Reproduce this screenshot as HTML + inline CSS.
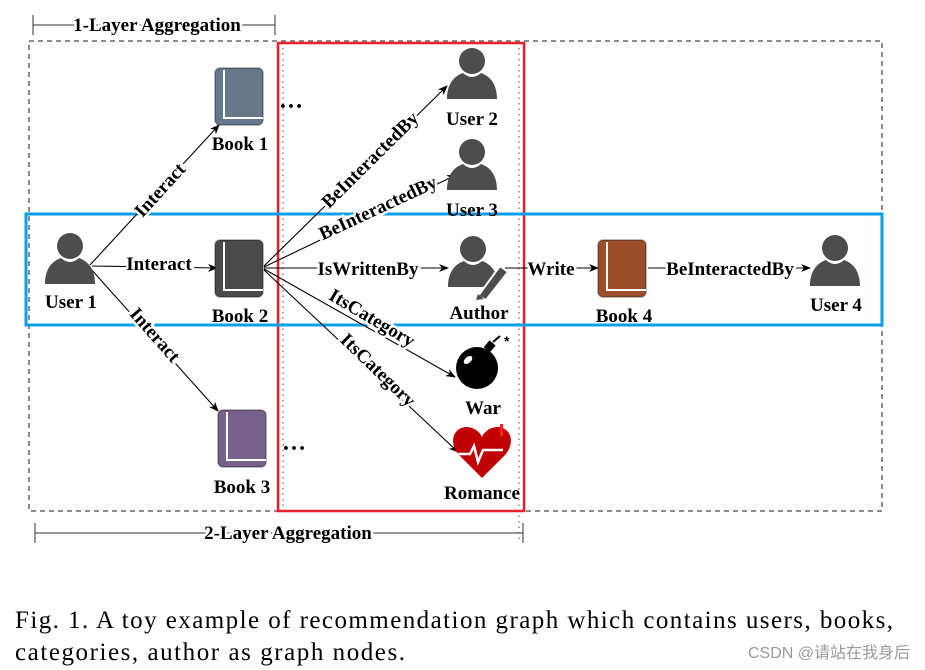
<!DOCTYPE html>
<html><head><meta charset="utf-8"><style>
html,body{margin:0;padding:0;background:#fff;}
svg{display:block;}
.l{font-family:"Liberation Serif",serif;font-weight:bold;font-size:19px;fill:#000;}
.e{font-family:"Liberation Serif",serif;font-weight:bold;font-size:19px;fill:#000;paint-order:stroke;stroke:#fff;stroke-width:5px;}
</style></head><body>
<svg width="925" height="670" viewBox="0 0 925 670" xmlns="http://www.w3.org/2000/svg">
<defs>
<marker id="a" markerWidth="10" markerHeight="8" refX="9" refY="4" orient="auto" markerUnits="userSpaceOnUse"><path d="M0,0 L10,4 L0,8 L3,4 Z" fill="#000"/></marker>
<g id="u"><circle cx="25" cy="14" r="13" fill="#4d4d4d"/><path d="M0,52 C0,37 7,29 16,26 Q25,34 34,26 C43,29 50,37 50,52 Z" fill="#4d4d4d"/></g>
<g id="bk"><rect x="0" y="0" width="48" height="57" rx="5" stroke="rgba(0,0,0,0.35)" stroke-width="1.5"/><path d="M9,2 V50 H48" stroke="#fff" stroke-width="2" fill="none"/></g>
</defs>
<rect x="29" y="41" width="853" height="470" fill="none" stroke="#666" stroke-width="1.5" stroke-dasharray="5,4"/>
<line x1="283" y1="48" x2="283" y2="510" stroke="#888" stroke-width="1.5" stroke-dasharray="1.5,4"/>
<line x1="519" y1="48" x2="519" y2="540" stroke="#888" stroke-width="1.5" stroke-dasharray="1.5,4"/>
<rect x="278" y="43" width="246" height="468" fill="none" stroke="#e8202a" stroke-width="2.5"/>
<rect x="26" y="214" width="856" height="111" fill="none" stroke="#0aa0e8" stroke-width="3"/>
<line x1="33" y1="25" x2="275" y2="25" stroke="#333" stroke-width="1"/>
<line x1="33" y1="15" x2="33" y2="35" stroke="#333"/><line x1="275" y1="15" x2="275" y2="35" stroke="#333"/>
<text class="e" x="157" y="31" text-anchor="middle">1-Layer Aggregation</text>
<line x1="35" y1="533" x2="523" y2="533" stroke="#333" stroke-width="1"/>
<line x1="35" y1="523" x2="35" y2="543" stroke="#333"/><line x1="523" y1="523" x2="523" y2="543" stroke="#333"/>
<text class="e" x="288" y="539" text-anchor="middle">2-Layer Aggregation</text>
<g stroke="#000" stroke-width="1.1" fill="none" marker-end="url(#a)">
<line x1="90" y1="265" x2="219" y2="125"/>
<line x1="92" y1="266" x2="217" y2="268"/>
<line x1="90" y1="268" x2="218" y2="411"/>
<line x1="264" y1="266" x2="447" y2="86"/>
<line x1="264" y1="267" x2="456" y2="175"/>
<line x1="264" y1="268" x2="448" y2="268"/>
<line x1="264" y1="269" x2="455" y2="377"/>
<line x1="264" y1="270" x2="458" y2="452"/>
<line x1="505" y1="268" x2="598" y2="268"/>
<line x1="648" y1="268" x2="810" y2="268"/>
</g>
<text class="e" x="160" y="196" text-anchor="middle" transform="rotate(-47.6 160 190)">Interact</text>
<text class="e" x="159" y="270" text-anchor="middle">Interact</text>
<text class="e" x="155" y="341" text-anchor="middle" transform="rotate(48.6 155 335)">Interact</text>
<text class="e" x="370" y="166" text-anchor="middle" transform="rotate(-44.7 370 160)">BeInteractedBy</text>
<text class="e" x="378" y="214" text-anchor="middle" transform="rotate(-25 378 208)">BeInteractedBy</text>
<text class="e" x="368" y="275" text-anchor="middle">IsWrittenBy</text>
<text class="e" x="372" y="324" text-anchor="middle" transform="rotate(30.5 372 318)">ItsCategory</text>
<text class="e" x="378" y="376" text-anchor="middle" transform="rotate(44 378 370)">ItsCategory</text>
<text class="e" x="551" y="275" text-anchor="middle">Write</text>
<text class="e" x="730" y="275" text-anchor="middle">BeInteractedBy</text>
<use href="#u" x="45" y="232"/>
<text class="l" x="71" y="308" text-anchor="middle">User 1</text>
<use href="#bk" x="215" y="68" fill="#66788a"/>
<text class="l" x="240" y="150" text-anchor="middle">Book 1</text>
<text class="l" x="291" y="108" text-anchor="middle" style="font-size:24px">…</text>
<use href="#bk" x="215" y="240" fill="#4a4a4a"/>
<text class="l" x="240" y="322" text-anchor="middle">Book 2</text>
<use href="#bk" x="218" y="410" fill="#77608a"/>
<text class="l" x="242" y="493" text-anchor="middle">Book 3</text>
<text class="l" x="294" y="450" text-anchor="middle" style="font-size:24px">…</text>
<use href="#u" x="447" y="47"/>
<text class="l" x="472" y="125" text-anchor="middle">User 2</text>
<use href="#u" x="447" y="138"/>
<text class="l" x="472" y="216" text-anchor="middle">User 3</text>
<use href="#u" x="448" y="235"/>
<path d="M478,296 L500,266 L508,272 L486,300 Z" fill="#4d4d4d" stroke="#fff" stroke-width="2"/>
<path d="M476,300 L478,294 L484,299 Z" fill="#4d4d4d"/>
<text class="l" x="479" y="319" text-anchor="middle">Author</text>
<use href="#bk" x="598" y="240" fill="#9c4e2b"/>
<text class="l" x="624" y="322" text-anchor="middle">Book 4</text>
<use href="#u" x="810" y="234"/>
<text class="l" x="836" y="311" text-anchor="middle">User 4</text>
<circle cx="477" cy="368" r="21" fill="#000"/>
<rect x="486" y="342" width="8" height="9" fill="#000" transform="rotate(40 490 346)"/>
<path d="M493,342 L500,336" stroke="#000" stroke-width="2"/>
<text x="504" y="346" style="font-family:'Liberation Sans',sans-serif;font-size:14px;font-weight:bold">*</text>
<ellipse cx="468" cy="360" rx="5" ry="3" fill="#fff" transform="rotate(-40 468 360)"/>
<text class="l" x="483" y="414" text-anchor="middle">War</text>
<path d="M482,478 L459,455 C449,444 452,428 466,427 C474,427 480,432 482,437 C484,432 490,427 498,427 C512,428 515,444 505,455 Z" fill="#c00000"/>
<path d="M458,454 H470 L474,446 L478,462 L483,450 H503" stroke="#fff" stroke-width="2.5" fill="none"/>
<rect x="500" y="424" width="3" height="12" fill="#ff2020"/>
<text class="l" x="482" y="499" text-anchor="middle">Romance</text>
<text x="15" y="628" textLength="878" lengthAdjust="spacing" style="font-family:'Liberation Serif',serif;font-size:25px">Fig. 1.  A toy example of recommendation graph which contains users, books,</text>
<text x="15" y="660" textLength="390" lengthAdjust="spacing" style="font-family:'Liberation Serif',serif;font-size:25px">categories, author as graph nodes.</text>
<text x="910" y="658" text-anchor="end" style="font-family:'Liberation Sans','Noto Sans CJK SC',sans-serif;font-size:16px;fill:#999">CSDN @请站在我身后</text>
</svg>
</body></html>
